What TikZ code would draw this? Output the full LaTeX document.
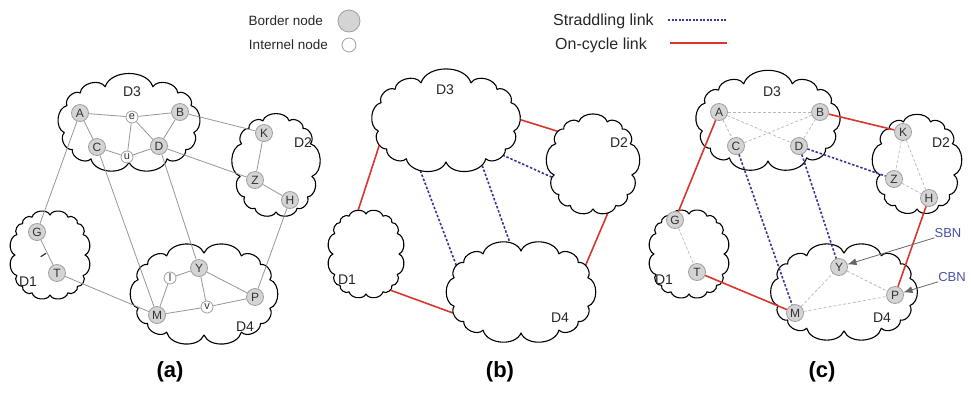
\documentclass[tikz,border=0pt]{standalone}
\usepackage{fontspec}
\setmainfont{Liberation Sans}
\usetikzlibrary{arrows.meta}

\definecolor{cyclered}{RGB}{215,55,45}
\definecolor{stradblue}{RGB}{55,55,150}
\definecolor{labelblue}{RGB}{70,80,170}
\definecolor{bfill}{RGB}{212,212,212}
\definecolor{edgegray}{RGB}{150,150,150}

\tikzset{
  cloudline/.style={draw=black, fill=white, line width=1.1pt, line join=round},
  bnode/.style={circle, draw=gray!75, fill=bfill, line width=0.8pt,
    minimum size=17pt, inner sep=0pt, text=black!80, font=\fontsize{12}{12}\selectfont},
  inode/.style={circle, draw=gray!75, fill=white, line width=0.8pt,
    minimum size=12pt, inner sep=0pt, text=black!80, font=\fontsize{11}{11}\selectfont},
  plain/.style={draw=edgegray, line width=0.8pt},
  oncycle/.style={draw=cyclered, line width=1.6pt},
  straddle/.style={draw=stradblue, line width=1.6pt, dash pattern=on 2.5pt off 1.8pt},
  intra/.style={draw=gray!55, line width=0.7pt, dash pattern=on 3pt off 2pt},
  pointer/.style={draw=gray!80!black, line width=0.8pt, -{Latex[length=9pt,width=7pt]}},
  dlabel/.style={inner sep=0pt, text=black!85, font=\fontsize{14}{14}\selectfont},
  tag/.style={inner sep=0pt, text=labelblue, font=\fontsize{13}{13}\selectfont},
  panel/.style={inner sep=0pt, font=\bfseries\fontsize{22}{22}\selectfont},
  legsmall/.style={inner sep=0pt, text=black!85, font=\fontsize{13.5}{13.5}\selectfont},
  legbig/.style={inner sep=0pt, text=black!85, font=\fontsize{16}{16}\selectfont},
  tucked/.style={shorten <=-8pt, shorten >=-8pt},
}

% A domain cloud: puffs strung along a rounded box.
% #1 name, #2/#3 centre, #4/#5 half sizes of the valley line, #6 puff count
\newcommand{\domaincloud}[6]{%
  \foreach \i in {0,...,#6}{%
    \pgfmathsetmacro\ang{360*\i/#6+90}%
    \pgfmathsetmacro\cc{cos(\ang)}%
    \pgfmathsetmacro\ss{sin(\ang)}%
    \pgfmathsetmacro\px{#2+#4*\cc*pow(max(abs(\cc),0.0001),-0.3)}%
    \pgfmathsetmacro\py{#3+#5*\ss*pow(max(abs(\ss),0.0001),-0.3)}%
    \coordinate (#1-\i) at (\px,\py);
  }%
  \path[cloudline] (#1-0) \foreach \i in {1,...,#6}{ to[bend left=72] (#1-\i) } -- cycle;
}

\begin{document}
\begin{tikzpicture}[x=1pt, y=-1pt]
\useasboundingbox (0,0) rectangle (971,392);

% ---------------- legend ----------------
\node[legsmall, anchor=east] (lgb) at (323,21) {Border node};
\node[bnode, minimum size=22pt] (lgbc) at (349,21) {};
\node[legsmall, anchor=east] (lgi) at (328,45) {Internel node};
\node[inode, minimum size=14pt] (lgic) at (349,45) {};
\node[legbig, anchor=west] (lgs) at (553,21) {Straddling link};
\coordinate (lgs1) at (668,20);
\coordinate (lgs2) at (727,20);
\draw[draw=stradblue, line width=1.2pt, dash pattern=on 2pt off 1.5pt] (lgs1) -- (lgs2);
\node[legbig, anchor=west] (lgo) at (555,45) {On-cycle link};
\coordinate (lgo1) at (670,43);
\coordinate (lgo2) at (727,43);
\draw[oncycle] (lgo1) -- (lgo2);

% ---------------- panel (a) ----------------
\domaincloud{ad3}{129}{124}{65}{38}{13}
\domaincloud{ad2}{276}{166}{36}{46}{13}
\domaincloud{ad1}{50}{255}{35}{40}{16}
\domaincloud{ad4}{204}{294}{67}{41}{14}

\node[dlabel] (ad3l) at (132,92) {D3};
\node[dlabel] (ad2l) at (303,143) {D2};
\node[dlabel] (ad1l) at (28,282) {D1};
\node[dlabel] (ad4l) at (245,327) {D4};

\node[bnode] (aA) at (80,113) {A};
\node[inode] (ae) at (132,117) {e};
\node[bnode] (aB) at (180,112) {B};
\node[bnode] (aC) at (97,147) {C};
\node[inode] (au) at (127,157) {u};
\node[bnode] (aD) at (159,146) {D};
\node[bnode] (aK) at (264,133) {K};
\node[bnode] (aZ) at (255,180) {Z};
\node[bnode] (aH) at (290,200) {H};
\node[bnode] (aG) at (37,232) {G};
\node[bnode] (aT) at (57,273) {T};
\node[inode] (al) at (170,278) {l};
\node[bnode] (aY) at (199,268) {Y};
\node[inode] (av) at (207,307) {v};
\node[bnode] (aP) at (255,297) {P};
\node[bnode] (aM) at (157,315) {M};

\draw[plain] (aA) -- (ae);
\draw[plain] (ae) -- (aB);
\draw[plain] (aA) -- (aC);
\draw[plain] (aC) -- (au);
\draw[plain] (au) -- (ae);
\draw[plain] (au) -- (aD);
\draw[plain] (ae) -- (aD);
\draw[plain] (aD) -- (aB);
\draw[plain] (aB) -- (aK);
\draw[plain] (aK) -- (aZ);
\draw[plain] (aD) -- (aZ);
\draw[plain] (aZ) -- (aH);
\draw[plain] (aA) -- (aG);
\draw[plain] (aG) -- (aT);
\draw[plain] (aT) -- (aM);
\draw[plain] (aC) -- (aM);
\draw[plain] (aD) -- (aY);
\draw[plain] (aH) -- (aP);
\draw[plain] (aM) -- (al);
\draw[plain] (al) -- (aY);
\draw[plain] (aY) -- (av);
\draw[plain] (aY) -- (aP);
\draw[plain] (aM) -- (av);
\draw[plain] (av) -- (aP);
% small mark on the G--T link
\coordinate (atk1) at (40.7,256.7);
\coordinate (atk2) at (46,253.3);
\draw[black!80, line width=1.2pt] (atk1) -- (atk2);

\node[panel] (pa) at (170,372) {(a)};

% ---------------- panel (b) ----------------
% links first: each end is tucked under the cloud it meets
\coordinate (b31) at (380,143);  \coordinate (b13) at (355,220);
\coordinate (b32) at (515,118);  \coordinate (b23) at (560,132);
\coordinate (b14) at (390,290);  \coordinate (b41) at (453,313);
\coordinate (b24) at (607,215);  \coordinate (b42) at (587,262);
\coordinate (s1a) at (417,162);  \coordinate (s1b) at (460,275);
\coordinate (s2a) at (482,165);  \coordinate (s2b) at (510,243);
\coordinate (s3a) at (498,153);  \coordinate (s3b) at (547,175);
\draw[oncycle, tucked] (b31) -- (b13);
\draw[oncycle, tucked] (b32) -- (b23);
\draw[oncycle, tucked] (b14) -- (b41);
\draw[oncycle, tucked] (b24) -- (b42);
\draw[straddle, tucked] (s1a) -- (s1b);
\draw[straddle, tucked] (s2a) -- (s2b);
\draw[straddle, tucked] (s3a) -- (s3b);

\domaincloud{bd3}{446}{122}{68}{40}{13}
\domaincloud{bd2}{593}{165}{39}{44}{13}
\domaincloud{bd1}{366}{254}{33}{40}{16}
\domaincloud{bd4}{521}{292}{68}{41}{14}

\node[dlabel] (bd3l) at (445,90) {D3};
\node[dlabel] (bd2l) at (619,143) {D2};
\node[dlabel] (bd1l) at (347,280) {D1};
\node[dlabel] (bd4l) at (560,318) {D4};

\node[panel] (pb) at (500,372) {(b)};

% ---------------- panel (c) ----------------
\domaincloud{cd3}{768}{122}{66}{39}{13}
\domaincloud{cd2}{917}{165}{37}{44}{13}
\domaincloud{cd1}{689}{254}{35}{40}{16}
\domaincloud{cd4}{844}{292}{67}{39}{14}

\node[dlabel] (cd3l) at (772,92) {D3};
\node[dlabel] (cd2l) at (941,143) {D2};
\node[dlabel] (cd1l) at (664,280) {D1};
\node[dlabel] (cd4l) at (882,318) {D4};

\node[bnode] (cA) at (719,112) {A};
\node[bnode] (cB) at (820,112) {B};
\node[bnode] (cC) at (736,146) {C};
\node[bnode] (cD) at (799,146) {D};
\node[bnode] (cK) at (903,132) {K};
\node[bnode] (cZ) at (894,179) {Z};
\node[bnode] (cH) at (929,198) {H};
\node[bnode] (cG) at (675,220) {G};
\node[bnode] (cT) at (697,272) {T};
\node[bnode] (cY) at (839,267) {Y};
\node[bnode] (cP) at (895,295) {P};
\node[bnode] (cM) at (795,313) {M};

\draw[intra] (cA) -- (cB);
\draw[intra] (cA) -- (cD);
\draw[intra] (cC) -- (cB);
\draw[intra] (cA) -- (cC);
\draw[intra] (cD) -- (cB);
\draw[intra] (cK) -- (cZ);
\draw[intra] (cK) -- (cH);
\draw[intra] (cZ) -- (cH);
\draw[intra] (cG) -- (cT);
\draw[intra] (cM) -- (cY);
\draw[intra] (cY) -- (cP);
\draw[intra] (cM) -- (cP);

\draw[oncycle] (cA) -- (cG);
\draw[oncycle] (cB) -- (cK);
\draw[oncycle] (cT) -- (cM);
\draw[oncycle] (cH) -- (cP);
\draw[straddle] (cC) -- (cM);
\draw[straddle] (cD) -- (cY);
\draw[straddle] (cD) -- (cZ);

\node[tag] (sbn) at (948,233) {SBN};
\node[tag] (cbn) at (952,277) {CBN};
\draw[pointer] (sbn.south west) -- (cY);
\draw[pointer] (cbn.south west) -- (cP);

\node[panel] (pc) at (822,372) {(c)};
\end{tikzpicture}
\end{document}
